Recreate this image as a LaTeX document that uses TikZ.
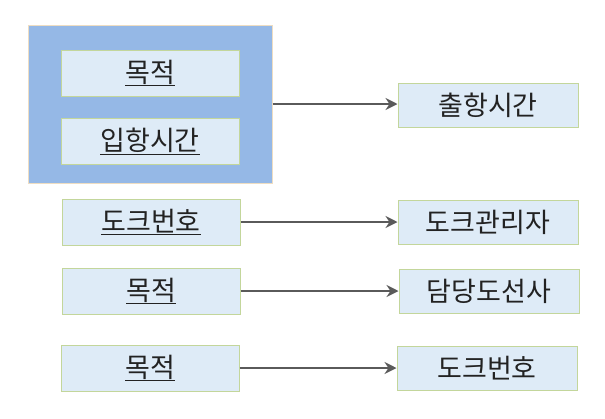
\documentclass[tikz,border=0pt]{standalone}
\usepackage{fontspec}
\setmainfont{Noto Sans CJK KR}
\usetikzlibrary{arrows.meta}
\definecolor{outerfill}{HTML}{95B8E6}
\definecolor{outerline}{HTML}{EEDDC2}
\definecolor{boxfill}{HTML}{DEEBF7}
\definecolor{boxline}{HTML}{C3D69B}
\definecolor{arrowc}{HTML}{5A5A5A}
\definecolor{txt}{HTML}{222222}
\tikzset{
  outerbox/.style={draw=outerline, fill=outerfill, line width=1pt, minimum width=244pt, minimum height=158pt, inner sep=0pt},
  fieldbox/.style={draw=boxline, fill=boxfill, line width=1pt, minimum width=178pt, minimum height=46pt, inner sep=0pt, text=txt, font=\fontsize{27}{30}\selectfont},
  targetbox/.style={fieldbox, minimum width=180pt, minimum height=44pt},
  conn/.style={draw=arrowc, line width=2pt, -{Stealth[length=12pt,width=12pt,inset=4pt]}}
}
\begin{document}
\begin{tikzpicture}[x=1pt,y=-1pt]
\useasboundingbox (0,0) rectangle (605,418);
\node[outerbox] (grp) at (150,104) {};
\node[fieldbox] (purpose1) at (150,73) {\underline{목적}};
\node[fieldbox] (arrival) at (150,141) {\underline{입항시간}};
\node[targetbox] (departure) at (488,105) {출항시간};
\node[fieldbox] (dock1) at (151,222) {\underline{도크번호}};
\node[targetbox] (manager) at (488,222) {도크관리자};
\node[fieldbox] (purpose2) at (151,291) {\underline{목적}};
\node[targetbox] (pilot) at (489,291) {담당도선사};
\node[fieldbox] (purpose3) at (150,368) {\underline{목적}};
\node[targetbox] (dock2) at (487,368) {도크번호};
\draw[conn] (grp.east) -- (grp.east -| departure.west);
\draw[conn] (dock1) -- (manager);
\draw[conn] (purpose2) -- (pilot);
\draw[conn] (purpose3) -- (dock2);
\end{tikzpicture}
\end{document}
